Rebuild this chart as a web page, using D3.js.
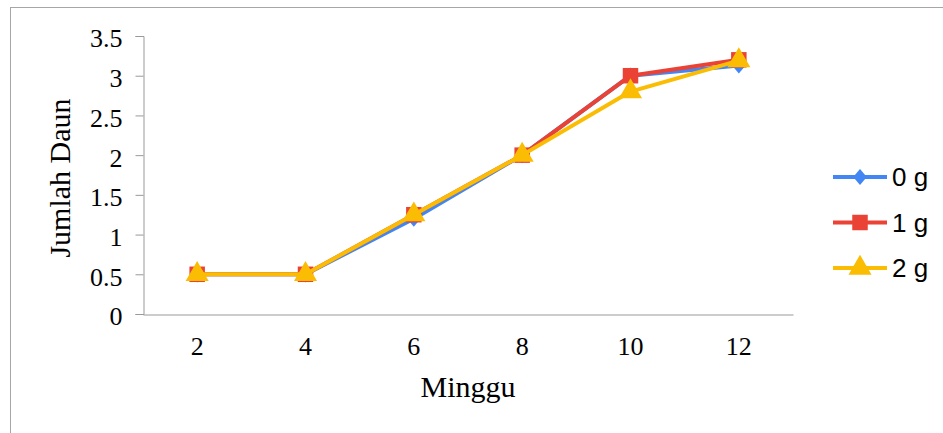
<!DOCTYPE html>
<html>
<head>
<meta charset="utf-8">
<script src="https://cdn.jsdelivr.net/npm/d3@7"></script>
<style>
  html, body { margin: 0; padding: 0; background: #fff; }
  svg { display: block; }
</style>
</head>
<body>
<div id="chart"></div>
<script>
// Data
const minggu = [2, 4, 6, 8, 10, 12];
const seriesNames = ['0 g', '1 g', '2 g'];
const daun0g = [0.5, 0.5, 1.2, 2.0, 3.0, 3.13];
const daun1g = [0.5, 0.5, 1.25, 2.0, 3.0, 3.2];
const daun2g = [0.5, 0.5, 1.25, 2.0, 2.8, 3.19];
const yTicks = [0, 0.5, 1, 1.5, 2, 2.5, 3, 3.5];

const width = 943, height = 433;
const colors = ['#4285f4', '#ea4335', '#fbbc04'];

// Excel-like diamond: a bit taller than wide
const excelDiamond = {
  draw(context, size) {
    const w = Math.sqrt(size / 2.4);
    const h = w * 1.2;
    context.moveTo(0, -h);
    context.lineTo(w, 0);
    context.lineTo(0, h);
    context.lineTo(-w, 0);
    context.closePath();
  }
};
const shapes = [excelDiamond, d3.symbolSquare, d3.symbolTriangle];
const sizes = [110, 240, 230];

const series = seriesNames.map((name, i) => ({
  name, values: [daun0g, daun1g, daun2g][i], color: colors[i], shape: shapes[i], size: sizes[i]
}));

const svg = d3.select('#chart').append('svg')
  .attr('width', width)
  .attr('height', height);

// outer chart border
svg.append('rect')
  .attr('x', 10.5).attr('y', 7.5)
  .attr('width', 940).attr('height', 440)
  .attr('fill', 'none')
  .attr('stroke', '#a6a6a6');

const x = d3.scaleBand().domain(minggu).range([143, 793]);
const y = d3.scaleLinear().domain([0, 3.5]).range([314, 36]);

// y axis
const yAxis = svg.append('g')
  .attr('transform', 'translate(143.5,0)')
  .call(d3.axisLeft(y).tickValues(yTicks).tickSize(8).tickPadding(13).tickFormat(d3.format('')));
yAxis.select('.domain').attr('stroke', '#999');
yAxis.selectAll('.tick line').attr('stroke', '#999');
yAxis.selectAll('.tick text')
  .attr('font-family', '"Liberation Serif", "Times New Roman", serif')
  .attr('font-size', 26)
  .attr('fill', '#000')
  .attr('dy', '0.42em');

// x axis
const xAxis = svg.append('g')
  .attr('transform', 'translate(0,314.5)')
  .call(d3.axisBottom(x).tickSize(0).tickPadding(22));
xAxis.select('.domain').attr('stroke', '#999');
xAxis.selectAll('.tick text')
  .attr('font-family', '"Liberation Serif", "Times New Roman", serif')
  .attr('font-size', 26)
  .attr('fill', '#000');

// axis titles
svg.append('text')
  .attr('x', 468).attr('y', 397)
  .attr('text-anchor', 'middle')
  .attr('font-family', '"Liberation Serif", "Times New Roman", serif')
  .attr('font-size', 30)
  .text('Minggu');

svg.append('text')
  .attr('transform', 'translate(70,178) rotate(-90)')
  .attr('text-anchor', 'middle')
  .attr('font-family', '"Liberation Serif", "Times New Roman", serif')
  .attr('font-size', 30)
  .text('Jumlah Daun');

// lines and markers
const cx = d => x(d) + x.bandwidth() / 2;
const line = d3.line()
  .x((d, i) => cx(minggu[i]))
  .y(d => y(d));

series.forEach(s => {
  const g = svg.append('g');
  g.append('path')
    .datum(s.values)
    .attr('d', line)
    .attr('fill', 'none')
    .attr('stroke', s.color)
    .attr('stroke-width', 4)
    .attr('stroke-linejoin', 'round');
  g.selectAll('path.pt')
    .data(s.values)
    .join('path')
    .attr('class', 'pt')
    .attr('d', d3.symbol().type(s.shape).size(s.size))
    .attr('transform', (d, i) => `translate(${cx(minggu[i])},${y(d)})`)
    .attr('fill', s.color);
});

// legend
const legend = svg.append('g');
series.forEach((s, i) => {
  const ly = 177 + i * 45.5;
  legend.append('line')
    .attr('x1', 833).attr('x2', 887)
    .attr('y1', ly).attr('y2', ly)
    .attr('stroke', s.color)
    .attr('stroke-width', 4);
  legend.append('path')
    .attr('d', d3.symbol().type(s.shape).size(s.size))
    .attr('transform', `translate(860,${ly})`)
    .attr('fill', s.color);
  legend.append('text')
    .attr('x', 892).attr('y', ly + 9)
    .attr('font-family', '"Liberation Sans", Arial, sans-serif')
    .attr('font-size', 26)
    .attr('fill', '#000')
    .text(s.name);
});
</script>
</body>
</html>
